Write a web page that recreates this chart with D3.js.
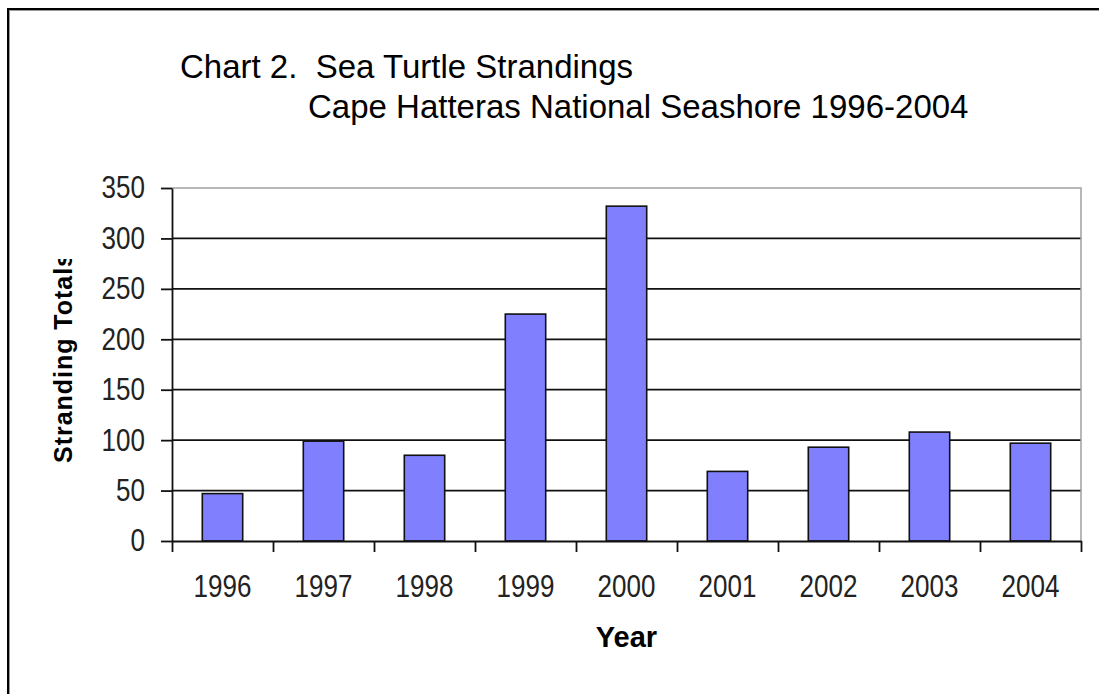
<!DOCTYPE html>
<html>
<head>
<meta charset="utf-8">
<script src="https://cdn.jsdelivr.net/npm/d3@7"></script>
<style>
  body { margin: 0; background: #fff; }
  svg { display: block; font-family: "Liberation Sans", Arial, sans-serif; }
</style>
</head>
<body>
<div id="chart"></div>
<script>
// Chart values
const years = ["1996", "1997", "1998", "1999", "2000", "2001", "2002", "2003", "2004"];
const strandings = [47, 99, 85, 225, 332, 69, 93, 108, 97];
const yTicks = [0, 50, 100, 150, 200, 250, 300, 350];

const titleLine1 = "Chart 2.  Sea Turtle Strandings";
const titleLine2 = "Cape Hatteras National Seashore 1996-2004";
const yLabel = "Stranding Totals";
const xLabel = "Year";

const data = years.map((y, i) => ({ year: y, value: strandings[i] }));

// Size and margins
const width = 1099, height = 694;
const margin = { top: 188, right: 18, bottom: 153, left: 172 };

const svg = d3.select("#chart")
    .append("svg")
    .attr("width", width)
    .attr("height", height);

// Outer frame (cropped at right and bottom, like the picture)
svg.append("rect")
    .attr("x", 8).attr("y", 9)
    .attr("width", 1300).attr("height", 900)
    .attr("fill", "none")
    .attr("stroke", "#000")
    .attr("stroke-width", 2);
svg.append("rect")
    .attr("x", 9.5).attr("y", 10.5)
    .attr("width", 1300).attr("height", 900)
    .attr("fill", "none")
    .attr("stroke", "#999")
    .attr("stroke-width", 1);

// Scales
const x = d3.scaleBand()
    .domain(years)
    .range([margin.left, width - margin.right])
    .paddingInner(0.6)
    .paddingOuter(0.3);

const xEdges = d3.scaleLinear()
    .domain([0, years.length])
    .range([margin.left, width - margin.right]);

const y = d3.scaleLinear()
    .domain([0, 350])
    .range([height - margin.bottom, margin.top]);

// Gridlines
svg.append("g")
    .selectAll("line")
    .data(yTicks.filter(t => t > 0 && t < 350))
    .enter().append("line")
    .attr("x1", margin.left)
    .attr("x2", width - margin.right)
    .attr("y1", d => y(d))
    .attr("y2", d => y(d))
    .attr("stroke", "#111")
    .attr("stroke-width", 1.8);

// Plot area border (top and right, gray)
svg.append("path")
    .attr("d", `M${margin.left},${y(350)}H${width - margin.right}V${y(0)}`)
    .attr("fill", "none")
    .attr("stroke", "#a0a0a0")
    .attr("stroke-width", 1.5);

// Bars
svg.selectAll(".bar")
    .data(data)
    .enter().append("rect")
    .attr("class", "bar")
    .attr("x", d => x(d.year))
    .attr("y", d => y(d.value))
    .attr("width", x.bandwidth())
    .attr("height", d => y(0) - y(d.value))
    .attr("fill", "#8080ff")
    .attr("stroke", "#111")
    .attr("stroke-width", 1.6);

// tick label look: tall, narrow digits
const tickFont = "31px";
const squeeze = 0.84;

// Y axis
const yAxis = svg.append("g")
    .attr("transform", `translate(${margin.left},0)`)
    .call(d3.axisLeft(y).tickValues(yTicks).tickSize(11).tickSizeOuter(0).tickPadding(16));
yAxis.selectAll("line, path").attr("stroke", "#111").attr("stroke-width", 1.8);
yAxis.selectAll("text")
    .attr("x", 0)
    .attr("transform", `translate(-27,0) scale(${squeeze},1)`)
    .attr("fill", "#222")
    .style("font-size", tickFont);

// X axis: boundary ticks between categories
const xTicks = svg.append("g")
    .attr("transform", `translate(0,${y(0)})`)
    .call(d3.axisBottom(xEdges).tickValues(d3.range(years.length + 1)).tickSize(11).tickSizeOuter(0).tickFormat(""));
xTicks.selectAll("line, path").attr("stroke", "#111").attr("stroke-width", 1.8);

// X axis: category labels
const xLabels = svg.append("g")
    .attr("transform", `translate(0,597)`)
    .call(d3.axisBottom(x).tickSize(0));
xLabels.select(".domain").remove();
xLabels.selectAll("text")
    .attr("y", 0)
    .attr("dy", null)
    .attr("transform", `scale(${squeeze},1)`)
    .attr("fill", "#222")
    .style("font-size", tickFont);

// Title (keep the double space after "2.")
svg.append("text")
    .attr("x", 180).attr("y", 78)
    .style("font-size", "33px")
    .style("white-space", "pre")
    .attr("fill", "#000")
    .text(titleLine1);
svg.append("text")
    .attr("x", 308).attr("y", 118)
    .style("font-size", "33px")
    .attr("fill", "#000")
    .text(titleLine2);

// Axis titles
svg.append("text")
    .attr("x", (margin.left + width - margin.right) / 2)
    .attr("y", 647)
    .attr("text-anchor", "middle")
    .style("font-size", "29px")
    .style("font-weight", "bold")
    .text(xLabel);

svg.append("clipPath")
    .attr("id", "ylabel-clip")
    .append("rect")
    .attr("x", 0).attr("y", 259)
    .attr("width", 160).attr("height", 300);

svg.append("g")
    .attr("clip-path", "url(#ylabel-clip)")
    .append("text")
    .attr("transform", "translate(72,463) rotate(-90)")
    .attr("textLength", 210)
    .style("font-size", "25px")
    .style("font-weight", "bold")
    .text(yLabel);
</script>
</body>
</html>
